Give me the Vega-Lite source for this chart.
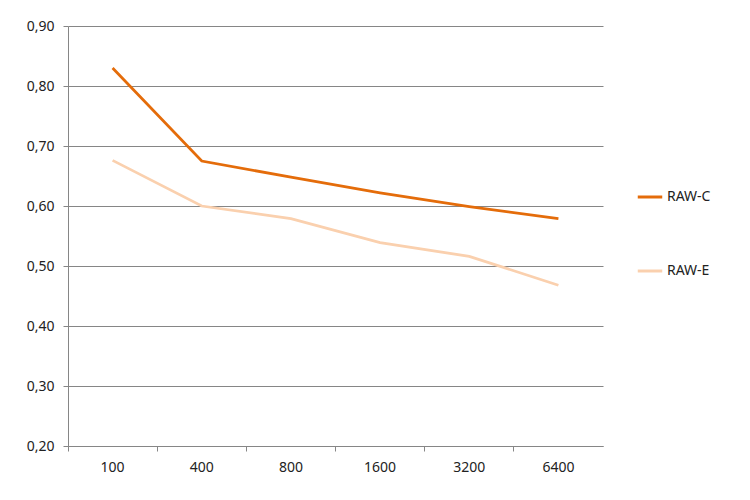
{
  "$schema": "https://vega.github.io/schema/vega-lite/v6.json",
  "width": 535,
  "height": 420,
  "autosize": {"type": "none"},
  "padding": {"left": 68, "top": 26, "right": 147, "bottom": 54},
  "background": "white",
  "config": {
    "view": {"stroke": null},
    "font": "Noto Sans",
    "axis": {
      "labelFont": "Noto Sans",
      "labelFontSize": 14,
      "labelColor": "#222222",
      "domainColor": "#868686",
      "tickColor": "#868686",
      "gridColor": "#868686",
      "title": null
    }
  },
  "data": {
    "values": [
      {"iso": "100", "series": "RAW-C", "value": 0.83},
      {"iso": "400", "series": "RAW-C", "value": 0.675},
      {"iso": "800", "series": "RAW-C", "value": 0.648},
      {"iso": "1600", "series": "RAW-C", "value": 0.622},
      {"iso": "3200", "series": "RAW-C", "value": 0.599},
      {"iso": "6400", "series": "RAW-C", "value": 0.579},
      {"iso": "100", "series": "RAW-E", "value": 0.676},
      {"iso": "400", "series": "RAW-E", "value": 0.6},
      {"iso": "800", "series": "RAW-E", "value": 0.579},
      {"iso": "1600", "series": "RAW-E", "value": 0.539},
      {"iso": "3200", "series": "RAW-E", "value": 0.516},
      {"iso": "6400", "series": "RAW-E", "value": 0.468}
    ]
  },
  "mark": {"type": "line", "strokeWidth": 2.75},
  "encoding": {
    "x": {
      "field": "iso",
      "type": "ordinal",
      "sort": null,
      "scale": {"type": "band", "paddingInner": 0, "paddingOuter": 0},
      "axis": {
        "bandPosition": 0,
        "labelAngle": 0,
        "labelPadding": 9,
        "tickSize": 5,
        "grid": false
      }
    },
    "y": {
      "field": "value",
      "type": "quantitative",
      "scale": {"domain": [0.2, 0.9], "nice": false, "zero": false},
      "axis": {
        "values": [0.2, 0.3, 0.4, 0.5, 0.6, 0.7, 0.8, 0.9],
        "labelExpr": "replace(format(datum.value, '.2f'), '.', ',')",
        "tickSize": 5,
        "labelPadding": 9,
        "grid": true
      }
    },
    "color": {
      "field": "series",
      "type": "nominal",
      "scale": {"domain": ["RAW-C", "RAW-E"], "range": ["#E46C0A", "#FAD0AE"]},
      "legend": {
        "title": null,
        "orient": "none",
        "legendX": 568,
        "legendY": 157,
        "symbolType": "stroke",
        "symbolSize": 600,
        "symbolStrokeWidth": 3,
        "labelFont": "Noto Sans",
        "labelFontSize": 14,
        "labelColor": "#222222",
        "labelOffset": 3,
        "rowPadding": 53
      }
    }
  }
}
